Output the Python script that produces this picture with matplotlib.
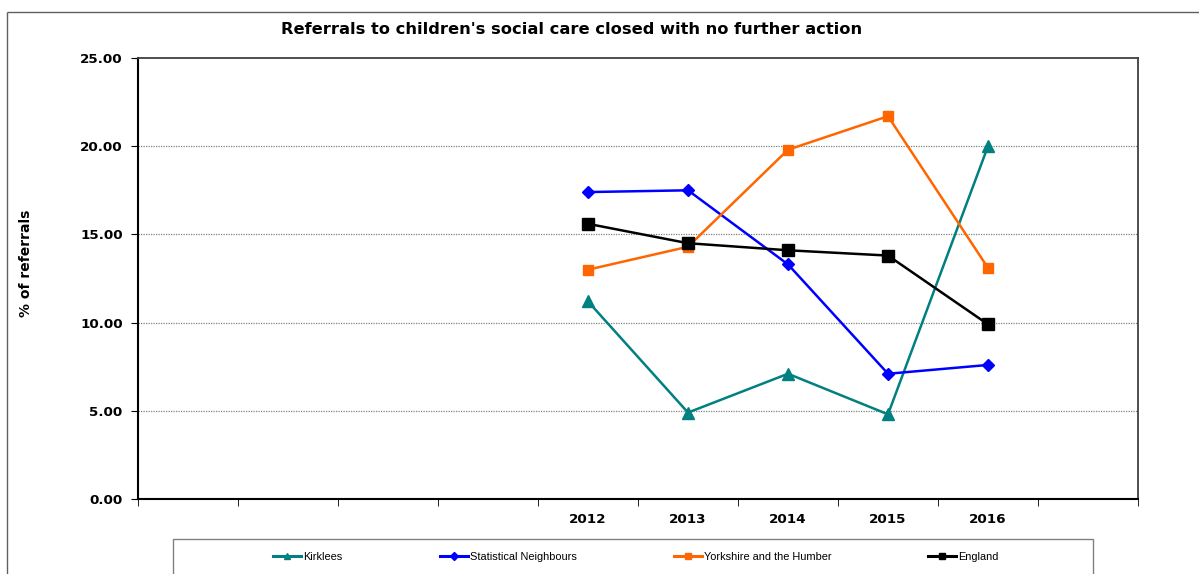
import matplotlib
matplotlib.use("Agg")
import matplotlib.pyplot as plt
from matplotlib.patches import Rectangle
from matplotlib.lines import Line2D
import numpy as np

# ---- data ----
categories = ["", "", "", "", "2012", "2013", "2014", "2015", "2016", ""]
years = ["2012", "2013", "2014", "2015", "2016"]
kirklees = [11.2, 4.9, 7.1, 4.8, 20.0]
stat_neighbours = [17.4, 17.5, 13.3, 7.1, 7.6]
yorkshire = [13.0, 14.3, 19.8, 21.7, 13.1]
england = [15.6, 14.5, 14.1, 13.8, 9.9]
yticks = [0, 5, 10, 15, 20, 25]

W, H = 1199, 574
fig = plt.figure(figsize=(W / 100, H / 100), dpi=100)
fig.patch.set_facecolor("white")

# outer chart frame (extends past right/bottom edges)
fig.add_artist(Line2D([7 / W, 1.0], [1 - 12 / H, 1 - 12 / H], transform=fig.transFigure,
                      color="#606060", lw=1.0, solid_capstyle="butt"))
fig.add_artist(Line2D([7 / W, 7 / W], [1 - 12 / H, 0.0], transform=fig.transFigure,
                      color="#606060", lw=1.0, solid_capstyle="butt"))

ax = fig.add_axes([138 / W, (H - 499) / H, 1000 / W, (499 - 58) / H])

xpos = [categories.index(y) for y in years]
series = [
    ("Kirklees", kirklees, "#008080", "^", 8),
    ("Statistical Neighbours", stat_neighbours, "#0000FF", "D", 6),
    ("Yorkshire and the Humber", yorkshire, "#FF6600", "s", 7.5),
    ("England", england, "#000000", "s", 8),
]
handles = []
for name, vals, col, mk, ms in series:
    ax.plot(xpos, vals, color=col, lw=1.8, marker=mk, ms=ms, mec=col, mfc=col, zorder=3)
    handles.append(Line2D([], [], color=col, lw=2.2, marker=mk, ms=4.5, mec=col, mfc=col,
                          label=name))

ax.set_xlim(-0.5, len(categories) - 0.5)
ax.set_ylim(0, 25)
ax.set_yticks(yticks)
ax.set_yticklabels([f"{v:.2f}" for v in yticks])
ax.set_xticks(np.arange(len(categories)))
ax.set_xticklabels(categories)
ax.set_xticks(np.arange(len(categories) + 1) - 0.5, minor=True)
ax.tick_params(axis="x", which="major", length=0, pad=10)
ax.tick_params(axis="x", which="minor", length=5, direction="out", color="#000000")
ax.tick_params(axis="y", which="major", length=5, direction="out", pad=6)
for lab in ax.get_xticklabels() + ax.get_yticklabels():
    lab.set_fontweight("bold")
    lab.set_fontsize(9.7)
    lab.set_fontfamily("DejaVu Sans")

for v in yticks[1:-1]:
    ax.axhline(v, color="#808080", lw=0.9, ls=(0, (1, 1)), zorder=1)

for s in ["left", "bottom"]:
    ax.spines[s].set_color("#000000")
    ax.spines[s].set_linewidth(1.5)
for s in ["top", "right"]:
    ax.spines[s].set_color("#404040")
    ax.spines[s].set_linewidth(1.3)

ax.set_ylabel("% of referrals", fontsize=10, fontweight="bold", labelpad=0)
ax.yaxis.set_label_coords((33 - 138) / 1000, (499 - 263) / (499 - 58), transform=ax.transAxes)

fig.text(572 / W, 1 - 30 / H, "Referrals to children's social care closed with no further action",
         ha="center", va="center", fontsize=11.7, fontweight="bold", family="DejaVu Sans")

# legend frame (extends past bottom edge)
fig.add_artist(Rectangle((173 / W, -0.05), (1093 - 173) / W, (H - 539) / H + 0.05,
                         transform=fig.transFigure, fill=False, ec="#808080", lw=1.0))
fs = 7.9
fpx = fs * 100 / 72
leg = fig.legend(handles=handles, loc="center", bbox_to_anchor=(636 / W, 1 - 557 / H),
                 ncol=4, frameon=False, prop={"family": "Liberation Sans", "size": fs},
                 columnspacing=97 / fpx, handlelength=28 / fpx, handletextpad=2 / fpx,
                 borderpad=0, borderaxespad=0)

fig.savefig("out.png", dpi=100, facecolor="white")
